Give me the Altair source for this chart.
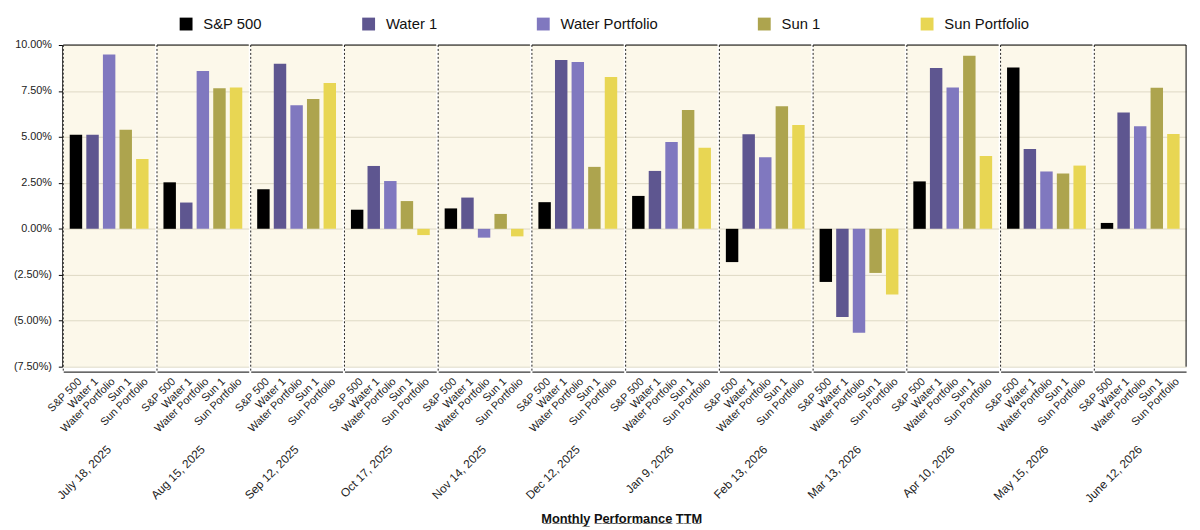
import altair as alt
import pandas as pd

dates = ["July 18, 2025", "Aug 15, 2025", "Sep 12, 2025", "Oct 17, 2025",
         "Nov 14, 2025", "Dec 12, 2025", "Jan 9, 2026", "Feb 13, 2026",
         "Mar 13, 2026", "Apr 10, 2026", "May 15, 2026", "June 12, 2026"]
series = ["S&P 500", "Water 1", "Water Portfolio", "Sun 1", "Sun Portfolio"]

sp500      = [5.12, 2.53, 2.15, 1.04, 1.11, 1.45, 1.79, -1.81, -2.89, 2.58, 8.78, 0.32]
water1     = [5.12, 1.43, 8.98, 3.42, 1.70, 9.19, 3.15, 5.14, -4.80, 8.75, 4.34, 6.33]
water_port = [9.48, 8.58, 6.72, 2.60, -0.48, 9.07, 4.73, 3.89, -5.65, 7.69, 3.12, 5.58]
sun1       = [5.39, 7.65, 7.06, 1.51, 0.81, 3.37, 6.47, 6.67, -2.40, 9.41, 3.01, 7.67]
sun_port   = [3.80, 7.69, 7.94, -0.34, -0.41, 8.26, 4.41, 5.65, -3.57, 3.96, 3.44, 5.16]

colors = ["#000000", "#5e5690", "#8078bf", "#ada44e", "#e8d653"]
y_ticks = [-7.5, -5, -2.5, 0, 2.5, 5, 7.5, 10]

rows = []
for i, d in enumerate(dates):
    for s, vals in zip(series, [sp500, water1, water_port, sun1, sun_port]):
        rows.append({"date": d, "series": s, "value": vals[i]})
df = pd.DataFrame(rows)

yscale = alt.Scale(domain=[-7.5, 10], nice=False, zero=False)
yaxis = alt.Axis(
    title=None, values=y_ticks,
    labelExpr="datum.value < 0 ? '(' + format(-datum.value/100, '.2%') + ')' : format(datum.value/100, '.2%')",
    labelFontSize=11, labelColor="#222", labelPadding=7,
    tickColor="black", tickSize=4, domainColor="black",
    gridColor="#ddd8c4", gridWidth=1,
)

bars = alt.Chart().mark_bar().encode(
    x=alt.X("series:N", sort=series,
            scale=alt.Scale(paddingInner=0.25, paddingOuter=0.39),
            axis=alt.Axis(title=None, labelAngle=-45, ticks=False, domainColor="black",
                          labelFontSize=11, labelColor="#222", labelPadding=4)),
    y=alt.Y("value:Q", scale=yscale, axis=yaxis),
    color=alt.Color("series:N", sort=series,
                    scale=alt.Scale(domain=series, range=colors),
                    legend=alt.Legend(title=None, orient="none", direction="horizontal",
                                      legendX=117, legendY=-29, padding=0,
                                      symbolType="square", symbolSize=170,
                                      symbolStrokeWidth=0, labelFontSize=15,
                                      labelColor="#111", labelOffset=10,
                                      columnPadding=100)),
)

sep = alt.Chart().mark_rule(strokeDash=[2, 2], color="#222", y2Offset=4).encode(
    x=alt.value(0), y=alt.datum(10), y2=alt.datum(-7.5)
).transform_filter(alt.datum.series == "S&P 500")

top = alt.Chart().mark_rule(color="black").encode(
    y=alt.datum(10)
).transform_filter(alt.datum.series == "S&P 500")

right = alt.Chart().mark_rule(color="black").encode(
    x=alt.value(93), y=alt.datum(10), y2=alt.datum(-7.5)
).transform_filter((alt.datum.series == "S&P 500") & (alt.datum.date == dates[-1]))

cell = alt.layer(bars, sep, top, right, data=df).properties(width=93, height=326)

chart = cell.facet(
    column=alt.Column("date:N", sort=dates,
                      header=alt.Header(title=None, labelOrient="bottom", labelAngle=-45,
                                        labelAlign="right", labelBaseline="middle",
                                        labelFontSize=12, labelColor="#222",
                                        labelPadding=14)),
    spacing=0,
).properties(
    title=alt.TitleParams("M̲o̲n̲t̲h̲l̲y̲ P̲e̲r̲f̲o̲r̲m̲a̲n̲c̲e̲ T̲T̲M̲", orient="bottom", anchor="middle",
                          fontSize=13, fontWeight="bold", color="#111", offset=8, dx=22),
    padding={"left": 5, "top": 5, "right": 5, "bottom": 0},
).configure(
    font="Liberation Sans"
).configure_view(
    fill="#fcf8ea", stroke=None
)

chart.save("out.html", embed_options={"renderer": "svg", "actions": False})
